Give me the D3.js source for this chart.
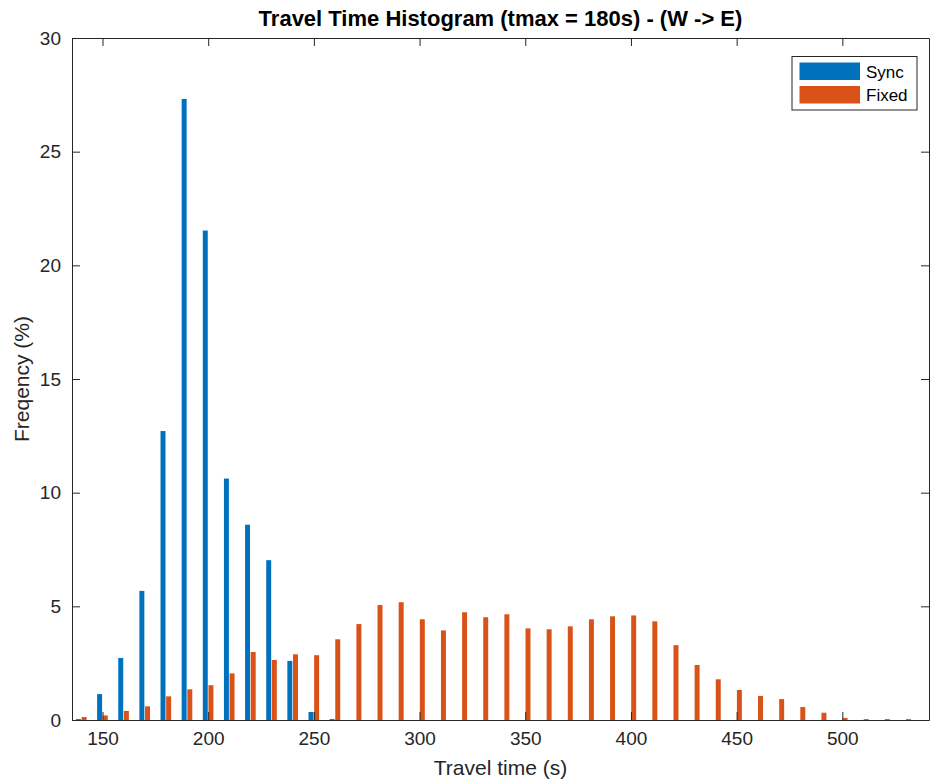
<!DOCTYPE html>
<html>
<head>
<meta charset="utf-8">
<script src="https://cdn.jsdelivr.net/npm/d3@7/dist/d3.min.js"></script>
<style>
  html, body { margin: 0; padding: 0; background: #fff; }
  svg { display: block; font-family: "Liberation Sans", Arial, Helvetica, sans-serif; }
</style>
</head>
<body>
<svg id="chart" width="930" height="780"></svg>
<script>
// ---- data ----
const binCenters = [140,150,160,170,180,190,200,210,220,230,240,250,260,270,280,290,300,310,320,330,
                    340,350,360,370,380,390,400,410,420,430,440,450,460,470,480,490,500,510,520,530];
const syncValues = [0.04,1.14,2.73,5.68,12.71,27.32,21.53,10.62,8.59,7.03,2.6,0.35,0.04,0,0,0,0,0,0,0,
                    0,0,0,0,0,0,0,0,0,0,0,0,0,0,0,0,0,0,0,0];
const fixedValues = [0.13,0.2,0.4,0.6,1.04,1.35,1.53,2.05,2.99,2.64,2.89,2.85,3.55,4.22,5.06,5.18,4.43,3.94,4.74,4.52,
                     4.65,4.03,3.99,4.12,4.43,4.56,4.6,4.34,3.29,2.42,1.79,1.32,1.06,0.92,0.57,0.32,0.09,0.04,0.04,0.04];
const seriesNames = ["Sync", "Fixed"];
const seriesColors = ["#0072BD", "#D95319"];
const xTicks = [150,200,250,300,350,400,450,500];
const yTicks = [0,5,10,15,20,25,30];
const titleText = "Travel Time Histogram (tmax = 180s) - (W -> E)";
const xLabelText = "Travel time (s)";
const yLabelText = "Freqency (%)";

// ---- layout ----
const svg = d3.select("#chart");
const L = 72, R = 929, T = 38, B = 720;
const x = d3.scaleLinear().domain([135.57, 541]).range([L, R]);
const y = d3.scaleLinear().domain([0, 30]).range([B, T]);
const axisColor = "#262626";

// bars
const barW = 2.35; // data units
const offsets = [-2.55, 0.12];
const series = [syncValues, fixedValues];
series.forEach((vals, si) => {
  svg.append("g").selectAll("rect")
    .data(binCenters.map((c, i) => ({c, v: vals[i]})).filter(d => d.v > 0))
    .join("rect")
    .attr("x", d => x(d.c + offsets[si]))
    .attr("width", d => x(d.c + offsets[si] + barW) - x(d.c + offsets[si]))
    .attr("y", d => y(d.v))
    .attr("height", d => y(0) - y(d.v))
    .attr("fill", seriesColors[si]);
});

// axes
const tickLen = 8;
const fontSize = 19;
const xAxis = d3.axisBottom(x).tickValues(xTicks).tickSize(-tickLen).tickPadding(12).tickSizeOuter(0);
const gx = svg.append("g").attr("transform", `translate(0,${B})`).call(xAxis);
const yAxis = d3.axisLeft(y).tickValues(yTicks).tickSize(-tickLen).tickPadding(11).tickSizeOuter(0);
const gy = svg.append("g").attr("transform", `translate(${L},0)`).call(yAxis);
const xTop = d3.axisTop(x).tickValues(xTicks).tickSize(-tickLen).tickFormat("").tickSizeOuter(0);
const gxt = svg.append("g").attr("transform", `translate(0,${T})`).call(xTop);
const yRight = d3.axisRight(y).tickValues(yTicks).tickSize(-tickLen).tickFormat("").tickSizeOuter(0);
const gyr = svg.append("g").attr("transform", `translate(${R},0)`).call(yRight);

[gx, gy, gxt, gyr].forEach(g => {
  g.select(".domain").attr("stroke", axisColor).attr("stroke-width", 1);
  g.selectAll(".tick line").attr("stroke", axisColor).attr("stroke-width", 1);
  g.selectAll(".tick text").attr("fill", axisColor).style("font-size", fontSize + "px")
    .style("font-family", "'Liberation Sans', Arial, sans-serif");
});

// title
svg.append("text").attr("x", (L + R) / 2).attr("y", 26).attr("text-anchor", "middle")
  .style("font-size", "22px").style("font-weight", "bold").attr("fill", "#000").text(titleText);
// x label
svg.append("text").attr("x", (L + R) / 2).attr("y", 775).attr("text-anchor", "middle")
  .style("font-size", "21px").attr("fill", axisColor).text(xLabelText);
// y label
svg.append("text").attr("transform", `translate(29,${(T + B) / 2}) rotate(-90)`).attr("text-anchor", "middle")
  .style("font-size", "21px").attr("fill", axisColor).text(yLabelText);

// legend
const lg = svg.append("g");
lg.append("rect").attr("x", 792).attr("y", 56.5).attr("width", 125).attr("height", 53.5)
  .attr("fill", "#fff").attr("stroke", axisColor).attr("stroke-width", 1);
seriesNames.forEach((name, i) => {
  const yy = 62.5 + i * 23.5;
  lg.append("rect").attr("x", 799.5).attr("y", yy).attr("width", 60.5).attr("height", 17.5).attr("fill", seriesColors[i]);
  lg.append("text").attr("x", 866).attr("y", yy + 15).style("font-size", "17px").attr("fill", "#000").text(name);
});
</script>
</body>
</html>
